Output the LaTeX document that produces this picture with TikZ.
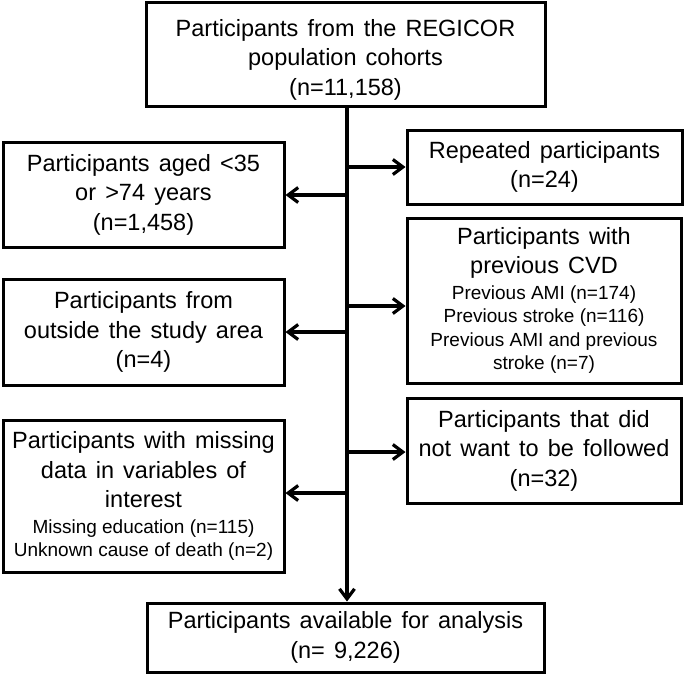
\documentclass[tikz,border=0pt]{standalone}
\usepackage{fontspec}
\setmainfont{Liberation Sans}
\newfontfamily\bigfam{Liberation Sans}[WordSpace=1.4]
\usetikzlibrary{arrows.meta}
\newcommand\smtxt{\rmfamily\fontsize{19}{23}\selectfont}
\begin{document}
\begin{tikzpicture}[x=1pt,y=-1pt,
  box/.style={draw, line width=3pt, rectangle, inner sep=0pt, align=center,
    font=\bigfam\fontsize{23.5}{29.5}\selectfont},
  conn/.style={line width=3.2pt, -{Straight Barb[length=10pt,width=15pt]}},
  trunkline/.style={line width=3.2pt, -{Straight Barb[length=10pt,width=15pt]}}]
\useasboundingbox (0,0) rectangle (685,677);
\fill[white] (0,0) rectangle (685,677);

\node[box, minimum width=399pt, minimum height=103pt] (top) at (345.5,54.5)
  {\rule{0pt}{27pt}Participants from the REGICOR\\population cohorts\\(n=11,158)};
\node[box, minimum width=275pt, minimum height=74pt] (rep) at (544.5,167)
  {Repeated participants\\(n=24)};
\node[box, minimum width=281pt, minimum height=105pt] (aged) at (143.5,194.5)
  {Participants aged <35\\or >74 years\\(n=1,458)};
\node[box, minimum width=274pt, minimum height=165pt] (cvd) at (544,300.5)
  {Participants with\\previous CVD\\[-4pt]{\smtxt Previous AMI (n=174)}\\[-6pt]{\smtxt Previous stroke (n=116)}\\[-6pt]{\smtxt Previous AMI and previous}\\[-6pt]{\smtxt stroke (n=7)}};
\node[box, minimum width=281pt, minimum height=106pt] (out) at (143.5,332)
  {Participants from\\outside the study area\\(n=4)};
\node[box, minimum width=274pt, minimum height=105pt] (nowant) at (544,450.5)
  {Participants that did\\not want to be followed\\(n=32)};
\node[box, minimum width=281pt, minimum height=152pt] (miss) at (143.5,496)
  {Participants with missing\\data in variables of\\interest\\[-4pt]{\smtxt Missing education (n=115)}\\[-6pt]{\smtxt Unknown cause of death (n=2)}};
\node[box, minimum width=397pt, minimum height=69pt] (final) at (345.5,637.5)
  {Participants available for analysis\\(n= 9,226)};

\coordinate (trunk) at (347,0);
\draw[trunkline] (top.south -| trunk) -- (final.north -| trunk);

\coordinate (b1) at (347,167);
\coordinate (b2) at (347,195);
\coordinate (b3) at (347,306);
\coordinate (b4) at (347,332);
\coordinate (b5) at (347,452);
\coordinate (b6) at (347,493);
\draw[conn] (b1) -- (b1 -| rep.west);
\draw[conn] (b2) -- (b2 -| aged.east);
\draw[conn] (b3) -- (b3 -| cvd.west);
\draw[conn] (b4) -- (b4 -| out.east);
\draw[conn] (b5) -- (b5 -| nowant.west);
\draw[conn] (b6) -- (b6 -| miss.east);
\end{tikzpicture}
\end{document}
